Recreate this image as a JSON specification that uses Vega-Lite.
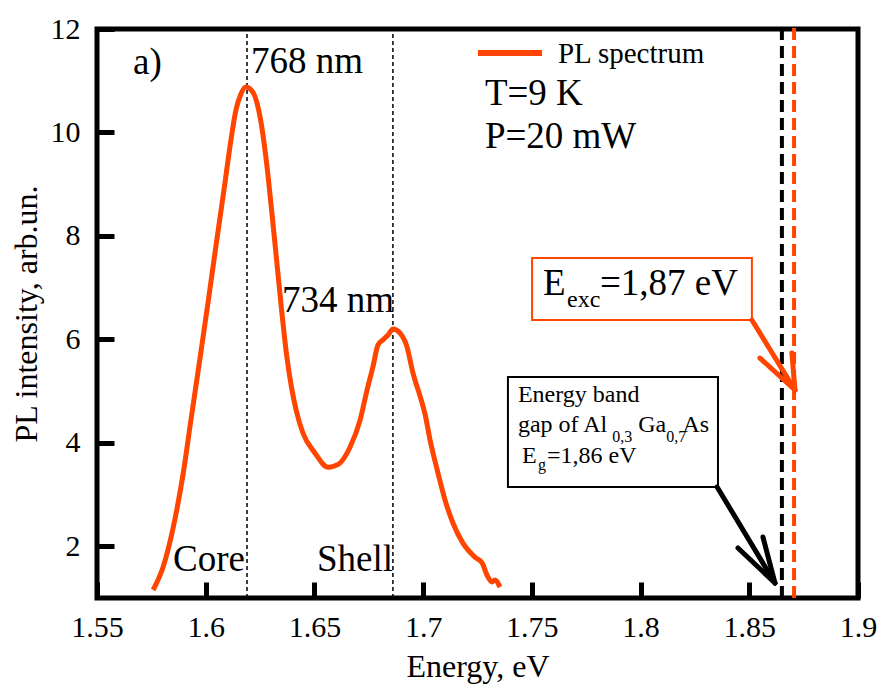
{
  "$schema": "https://vega.github.io/schema/vega-lite/v6.json",
  "width": 761,
  "height": 569,
  "autosize": {"type": "none"},
  "padding": {"left": 97, "top": 29, "right": 21, "bottom": 89},
  "background": "white",
  "config": {
    "view": {"stroke": "black", "strokeWidth": 5},
    "axis": {
      "domain": false, "grid": false, "ticks": true, "tickColor": "black", "tickWidth": 5, "tickOpacity": 1,
      "labelFont": "Liberation Serif", "titleFont": "Liberation Serif",
      "labelColor": "black", "titleColor": "black",
      "titleFontWeight": "normal", "labelFontSize": 30, "titleFontSize": 32,
      "labelOverlap": false, "labelFlush": false
    },
    "text": {"font": "Liberation Serif", "align": "left", "baseline": "alphabetic", "color": "black"}
  },
  "datasets": {
    "spectrum": [
      {"x": 1.5758, "y": 1.155}, {"x": 1.5804, "y": 1.599}, {"x": 1.585, "y": 2.353}, {"x": 1.5896, "y": 3.397},
      {"x": 1.5932, "y": 4.441}, {"x": 1.5974, "y": 5.64}, {"x": 1.6011, "y": 6.722}, {"x": 1.6047, "y": 7.805},
      {"x": 1.6084, "y": 8.888}, {"x": 1.6116, "y": 9.854}, {"x": 1.6139, "y": 10.434}, {"x": 1.6162, "y": 10.743},
      {"x": 1.6185, "y": 10.878}, {"x": 1.6219, "y": 10.762}, {"x": 1.625, "y": 10.298}, {"x": 1.628, "y": 9.409},
      {"x": 1.6303, "y": 8.5}, {"x": 1.6326, "y": 7.534}, {"x": 1.6349, "y": 6.567}, {"x": 1.6372, "y": 5.697},
      {"x": 1.6395, "y": 5.06}, {"x": 1.6418, "y": 4.596}, {"x": 1.6447, "y": 4.19}, {"x": 1.6503, "y": 3.8},
      {"x": 1.6562, "y": 3.53}, {"x": 1.659, "y": 3.55}, {"x": 1.6618, "y": 3.61}, {"x": 1.6664, "y": 3.92},
      {"x": 1.671, "y": 4.44}, {"x": 1.6742, "y": 5.02}, {"x": 1.6769, "y": 5.47}, {"x": 1.6792, "y": 5.89},
      {"x": 1.6815, "y": 5.99}, {"x": 1.6838, "y": 6.08}, {"x": 1.6861, "y": 6.2}, {"x": 1.6894, "y": 6.12},
      {"x": 1.6926, "y": 5.85}, {"x": 1.6953, "y": 5.35}, {"x": 1.6986, "y": 4.9}, {"x": 1.7009, "y": 4.55},
      {"x": 1.7032, "y": 4.05}, {"x": 1.7068, "y": 3.42}, {"x": 1.7101, "y": 2.89}, {"x": 1.7137, "y": 2.45},
      {"x": 1.7183, "y": 2.06}, {"x": 1.7238, "y": 1.79}, {"x": 1.7271, "y": 1.68}, {"x": 1.7294, "y": 1.44},
      {"x": 1.7317, "y": 1.31}, {"x": 1.733, "y": 1.35}, {"x": 1.7353, "y": 1.21}
    ],
    "xMinorTicks": [{"x": 1.575}, {"x": 1.625}, {"x": 1.675}, {"x": 1.725}, {"x": 1.775}, {"x": 1.825}, {"x": 1.875}],
    "yMinorTicks": [{"y": 3}, {"y": 5}, {"y": 7}, {"y": 9}, {"y": 11}],
    "peakLines": [{"x": 1.619, "y": 1, "y2": 12}, {"x": 1.6861, "y": 1, "y2": 12}],
    "egLine": [{"x": 1.865, "y": 1, "y2": 12}],
    "excLine": [{"x": 1.8706, "y": 1, "y2": 12.1}],
    "redBox": [{"x": 1.7501, "x2": 1.8512, "y": 7.573, "y2": 6.374}],
    "blackBox": [{"x": 1.739, "x2": 1.8356, "y": 5.272, "y2": 3.146}],
    "redArrow": [
      {"x": 1.8512, "y": 6.374, "x2": 1.871, "y2": 5.021},
      {"x": 1.8549, "y": 5.639, "x2": 1.871, "y2": 5.021},
      {"x": 1.8696, "y": 5.736, "x2": 1.871, "y2": 5.021}
    ],
    "blackArrow": [
      {"x": 1.8352, "y": 3.146, "x2": 1.8618, "y2": 1.29},
      {"x": 1.8448, "y": 1.967, "x2": 1.8618, "y2": 1.29},
      {"x": 1.8563, "y": 2.179, "x2": 1.8618, "y2": 1.29}
    ],
    "legendLine": [{"x": 1.7252, "x2": 1.7547, "y": 11.535, "y2": 11.535}],
    "bigText": [
      {"x": 1.5666, "y": 11.13, "text": "a)"},
      {"x": 1.6208, "y": 11.149, "text": "768 nm"},
      {"x": 1.6351, "y": 6.529, "text": "734 nm"},
      {"x": 1.585, "y": 1.522, "text": "Core"},
      {"x": 1.6512, "y": 1.522, "text": "Shell"},
      {"x": 1.7284, "y": 10.53, "text": "T=9 K"},
      {"x": 1.7284, "y": 9.699, "text": "P=20 mW"},
      {"x": 1.7551, "y": 6.857, "text": "E"},
      {"x": 1.7813, "y": 6.857, "text": "=1,87 eV"}
    ],
    "excText": [{"x": 1.7662, "y": 6.625, "text": "exc"}],
    "legendText": [{"x": 1.762, "y": 11.342, "text": "PL spectrum"}],
    "boxText": [
      {"x": 1.7436, "y": 4.789, "text": "Energy band"},
      {"x": 1.7436, "y": 4.209, "text": "gap of Al"},
      {"x": 1.7989, "y": 4.209, "text": "Ga"},
      {"x": 1.8193, "y": 4.209, "text": "As"},
      {"x": 1.7455, "y": 3.61, "text": "E"},
      {"x": 1.757, "y": 3.61, "text": "=1,86 eV"}
    ],
    "subText": [
      {"x": 1.787, "y": 4.016, "text": "0,3"},
      {"x": 1.8118, "y": 4.016, "text": "0,7"},
      {"x": 1.7528, "y": 3.474, "text": "g"}
    ]
  },
  "encoding": {
    "x": {
      "field": "x", "type": "quantitative",
      "scale": {"domain": [1.55, 1.9], "nice": false, "zero": false},
      "axis": {
        "title": "Energy, eV",
        "values": [1.55, 1.6, 1.65, 1.7, 1.75, 1.8, 1.85, 1.9],
        "labelExpr": "format(datum.value, '.2~f')",
        "tickSize": -16,
        "labelPadding": 30,
        "titlePadding": 9
      }
    },
    "y": {
      "field": "y", "type": "quantitative",
      "scale": {"domain": [1, 12], "nice": false, "zero": false},
      "axis": {
        "title": "PL intensity, arb.un.",
        "values": [2, 4, 6, 8, 10, 12],
        "tickSize": -17,
        "labelPadding": 34,
        "titlePadding": 7
      }
    }
  },
  "layer": [
    {"data": {"name": "peakLines"}, "mark": {"type": "rule", "color": "black", "strokeWidth": 1.5, "strokeDash": [4, 3]},
     "encoding": {"y2": {"field": "y2"}}},
    {"data": {"name": "egLine"}, "mark": {"type": "rule", "color": "black", "strokeWidth": 4, "strokeDash": [12, 6]},
     "encoding": {"y2": {"field": "y2"}}},
    {"data": {"name": "excLine"}, "mark": {"type": "rule", "color": "#ff4500", "strokeWidth": 4, "strokeDash": [12, 6]},
     "encoding": {"y2": {"field": "y2"}}},
    {"data": {"name": "spectrum"}, "mark": {"type": "line", "color": "#ff4500", "strokeWidth": 5, "interpolate": "monotone"}},
    {"data": {"name": "legendLine"}, "mark": {"type": "rule", "color": "#ff4500", "strokeWidth": 6},
     "encoding": {"x2": {"field": "x2"}, "y2": {"field": "y2"}}},
    {"data": {"name": "redBox"}, "mark": {"type": "rect", "fill": "white", "stroke": "#ff4500", "strokeWidth": 2},
     "encoding": {"x2": {"field": "x2"}, "y2": {"field": "y2"}}},
    {"data": {"name": "blackBox"}, "mark": {"type": "rect", "fill": "white", "stroke": "black", "strokeWidth": 2},
     "encoding": {"x2": {"field": "x2"}, "y2": {"field": "y2"}}},
    {"data": {"name": "redArrow"}, "mark": {"type": "rule", "color": "#ff4500", "strokeWidth": 5, "strokeCap": "round"},
     "encoding": {"x2": {"field": "x2"}, "y2": {"field": "y2"}}},
    {"data": {"name": "blackArrow"}, "mark": {"type": "rule", "color": "black", "strokeWidth": 5, "strokeCap": "round"},
     "encoding": {"x2": {"field": "x2"}, "y2": {"field": "y2"}}},
    {"data": {"name": "xMinorTicks"}, "mark": {"type": "tick", "orient": "vertical", "color": "black", "size": 11, "thickness": 5, "opacity": 1, "yOffset": -5.5},
     "encoding": {"y": {"datum": 1}}},
    {"data": {"name": "yMinorTicks"}, "mark": {"type": "tick", "orient": "horizontal", "color": "black", "size": 11, "thickness": 5, "opacity": 1, "xOffset": 5.5},
     "encoding": {"x": {"datum": 1.55}}},
    {"data": {"name": "bigText"}, "mark": {"type": "text", "fontSize": 37}, "encoding": {"text": {"field": "text"}}},
    {"data": {"name": "excText"}, "mark": {"type": "text", "fontSize": 24}, "encoding": {"text": {"field": "text"}}},
    {"data": {"name": "legendText"}, "mark": {"type": "text", "fontSize": 29}, "encoding": {"text": {"field": "text"}}},
    {"data": {"name": "boxText"}, "mark": {"type": "text", "fontSize": 24}, "encoding": {"text": {"field": "text"}}},
    {"data": {"name": "subText"}, "mark": {"type": "text", "fontSize": 16}, "encoding": {"text": {"field": "text"}}}
  ]
}
